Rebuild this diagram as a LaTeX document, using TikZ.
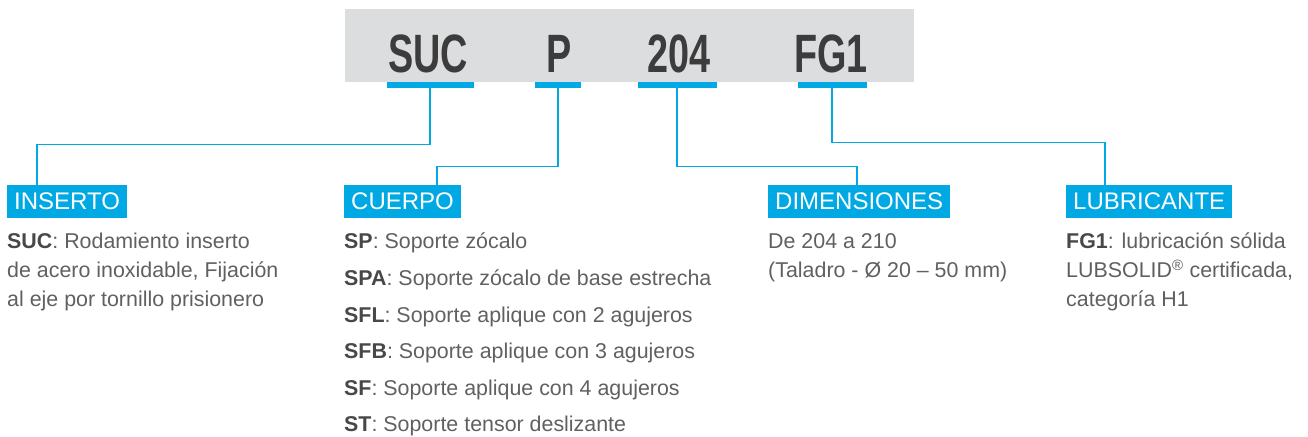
\documentclass[tikz,border=0pt]{standalone}
\usepackage{fontspec}
\setmainfont{Liberation Sans}
\newfontfamily\codefont[FakeStretch=0.70]{Liberation Sans Bold}
\definecolor{skfblue}{RGB}{0,168,228}
\definecolor{panelgray}{RGB}{220,221,223}
\definecolor{codeink}{RGB}{60,60,60}
\definecolor{bodyink}{RGB}{96,96,96}
\definecolor{keyink}{RGB}{72,72,72}
\newcommand\keyw[1]{{\color{keyink}\bfseries #1}}

\begin{document}
\begin{tikzpicture}[x=1pt, y=-1pt,
  codetxt/.style={anchor=base, inner sep=0pt, text=codeink, font=\codefont\fontsize{54}{54}\selectfont},
  codebar/.style={anchor=north, fill=skfblue, inner sep=0pt, minimum height=6pt},
  tagbox/.style={anchor=north west, fill=skfblue, text=white, inner xsep=7pt, inner ysep=0pt, minimum height=33pt, font=\fontsize{24}{24}\selectfont},
  infotext/.style={anchor=north west, inner sep=0pt, align=left, text=bodyink},
  link/.style={draw=skfblue, line width=1.6pt}]
\useasboundingbox (0,0) rectangle (1308,436);

% code strip
\node [anchor=north west, fill=panelgray, inner sep=0pt, minimum width=569pt, minimum height=73pt] (strip) at (345,9) {};
\node [codetxt] (SUC) at (428,72) {SUC};
\node [codetxt] (P) at (559,72) {P};
\node [codetxt] (D204) at (679,72) {204};
\node [codetxt] (FG1) at (831,72) {FG1};

\node [codebar, minimum width=87pt] (barsuc) at (430,82) {};
\node [codebar, minimum width=46pt] (barp) at (558,82) {};
\node [codebar, minimum width=79pt] (bardim) at (677,82) {};
\node [codebar, minimum width=69pt] (barfg) at (832,82) {};

% group titles
\node [tagbox] (inserto) at (7,185) {INSERTO};
\node [tagbox] (cuerpo) at (344,185) {CUERPO};
\node [tagbox] (dimens) at (768,185) {DIMENSIONES};
\node [tagbox] (lubric) at (1066,185) {LUBRICANTE};

\coordinate (toins) at (37,185);
\coordinate (tocue) at (437,185);
\coordinate (todim) at (857,185);
\coordinate (tolub) at (1105,185);

\draw [link] (barsuc.south) -- ++(0,56) -| (toins);
\draw [link] (barp.south) -- ++(0,78) -| (tocue);
\draw [link] (bardim.south) -- ++(0,78) -| (todim);
\draw [link] (barfg.south) -- ++(0,54) -| (tolub);

% descriptions
\node [infotext, font=\fontsize{21.4}{29}\selectfont] (insdesc) at (7,233)
  {\keyw{SUC}: Rodamiento inserto\\de acero inoxidable, Fijación\\al eje por tornillo prisionero};
\node [infotext, font=\fontsize{21.4}{36.6}\selectfont] (cuedesc) at (344,233)
  {\keyw{SP}: Soporte zócalo\\\keyw{SPA}: Soporte zócalo de base estrecha\\\keyw{SFL}: Soporte aplique con 2 agujeros\\\keyw{SFB}: Soporte aplique con 3 agujeros\\\keyw{SF}: Soporte aplique con 4 agujeros\\\keyw{ST}: Soporte tensor deslizante};
\node [infotext, font=\fontsize{21.4}{29}\selectfont] (dimdesc) at (768,233)
  {De 204 a 210\\(Taladro - Ø 20 – 50 mm)};
\node [infotext, font=\fontsize{21.4}{29}\selectfont] (lubdesc) at (1066,233)
  {\keyw{FG1}: lubricación sólida\\LUBSOLID\textsuperscript{®} certificada,\\categoría H1};
\end{tikzpicture}
\end{document}
